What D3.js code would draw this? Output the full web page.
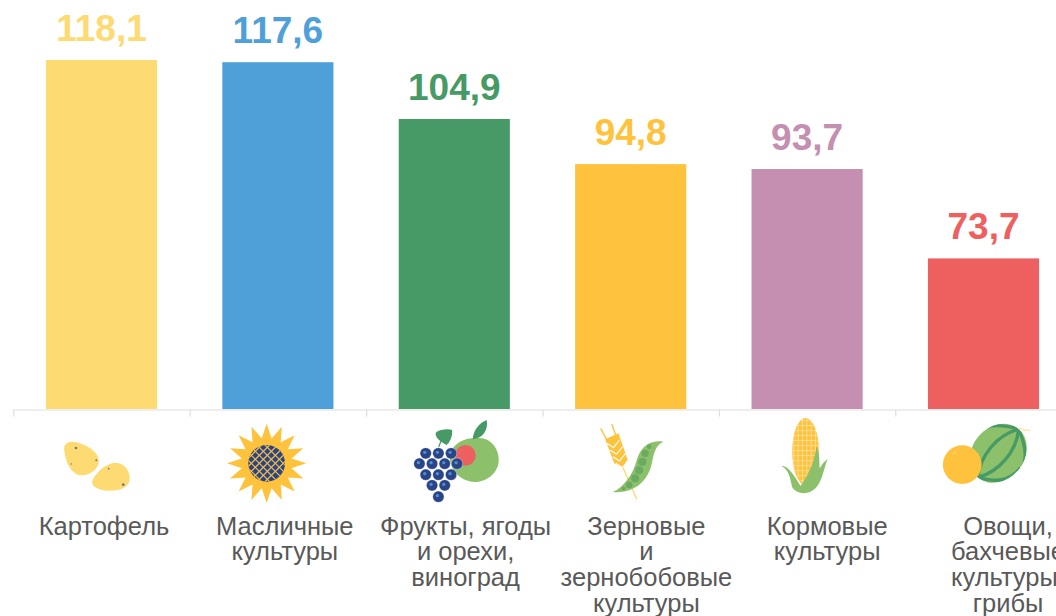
<!DOCTYPE html>
<html lang="ru">
<head>
<meta charset="utf-8">
<script src="https://cdnjs.cloudflare.com/ajax/libs/d3/7.9.0/d3.min.js"></script>
<style>
  html, body { margin: 0; padding: 0; background: #fff; overflow: hidden; }
  text { font-family: "Liberation Sans", Arial, sans-serif; }
</style>
</head>
<body>
<svg id="chart" width="1056" height="616"></svg>
<script>
// данные
const categories = ["Картофель", "Масличные культуры", "Фрукты, ягоды и орехи, виноград", "Зерновые и зернобобовые культуры", "Кормовые культуры", "Овощи, бахчевые культуры, грибы"];
const values = [118.1, 117.6, 104.9, 94.8, 93.7, 73.7];
const labelLines = [
  ["Картофель"],
  ["Масличные", "культуры"],
  ["Фрукты, ягоды", "и орехи,", "виноград"],
  ["Зерновые", "и", "зернобобовые", "культуры"],
  ["Кормовые", "культуры"],
  ["Овощи,", "бахчевые", "культуры,", "грибы"]
];
const barColors = ["#fdda72", "#4f9fd9", "#479a66", "#ffc23c", "#c48fb0", "#ee6060"];

const svg = d3.select("#chart");

// шкала начинается с 40, как на исходном графике
const y = d3.scaleLinear().domain([40, 118.1]).range([409, 60]);
const x = d3.scaleBand().domain(categories).range([13.3, 1071.7]).paddingInner(0.37).paddingOuter(0.185);
// подписи идут с чуть большим шагом, чем столбцы
const labelX = d3.scalePoint().domain(categories).range([104, 1008]);

svg.selectAll("rect.bar")
  .data(categories)
  .enter()
  .append("rect")
    .attr("class", "bar")
    .attr("x", d => x(d))
    .attr("y", (d, i) => y(values[i]))
    .attr("width", x.bandwidth())
    .attr("height", (d, i) => y.range()[0] - y(values[i]))
    .attr("fill", (d, i) => barColors[i]);

svg.selectAll("text.value")
  .data(categories)
  .enter()
  .append("text")
    .attr("class", "value")
    .attr("x", d => x(d) + x.bandwidth() / 2)
    .attr("y", (d, i) => y(values[i]) - 19)
    .attr("text-anchor", "middle")
    .attr("font-size", 37)
    .attr("font-weight", "bold")
    .attr("fill", (d, i) => barColors[i])
    .text((d, i) => String(values[i]).replace(".", ","));

// ось с засечками между категориями
const tickScale = d3.scaleLinear().domain([0, categories.length]).range(x.range());
const axis = svg.append("g")
  .attr("transform", "translate(0,409.5)")
  .call(d3.axisBottom(tickScale).tickValues(d3.range(categories.length + 1)).tickSize(7).tickSizeOuter(0).tickFormat(""));
axis.selectAll("path, line").attr("stroke", "#dedede").attr("stroke-width", 1.2);

// подписи категорий
const labels = svg.selectAll("text.cat")
  .data(categories)
  .enter()
  .append("text")
    .attr("class", "cat")
    .attr("text-anchor", "middle")
    .attr("font-size", 25.5)
    .attr("fill", "#595959");
labels.each(function (d, i) {
  d3.select(this).selectAll("tspan")
    .data(labelLines[i])
    .enter()
    .append("tspan")
      .attr("x", labelX(d))
      .attr("y", (l, j) => 534.5 + j * 25.7)
      .text(l => l);
});

// иконки: координаты внутри каждой иконки заданы в масштабе 3:1
const defs = svg.append("defs");
const GREEN = "#8cc06a", DARK = "#479a66", NAVY = "#2a4488", GOLD = "#ffc23c", POTATO = "#fdda72";

function icon(i, ox, oy) {
  return svg.append("g").attr("transform", `translate(${x(categories[i]) + ox},${oy}) scale(${1 / 3})`);
}

// картофель
const g0 = icon(0, -16, 400);
g0.append("path").attr("fill", POTATO)
  .attr("d", "M103,150 C100,128 120,122 140,127 C170,135 205,155 207,182 C208,205 180,226 155,226 C125,226 106,185 103,150 Z");
g0.append("path").attr("fill", POTATO)
  .attr("d", "M187,243 C195,222 225,190 255,188 C285,188 302,215 299,240 C296,265 265,273 235,272 C208,271 182,260 187,243 Z");
[[138, 144, 4], [199, 181, 3], [124, 192, 2], [236, 206, 2.5], [280, 254, 4]].forEach(p => {
  g0.append("circle").attr("cx", p[0]).attr("cy", p[1]).attr("r", p[2]).attr("fill", "#777");
});

// подсолнух
const g1 = icon(1, -192, 400).append("g").attr("transform", "translate(709,190)");
const rays = 16;
const star = d3.range(rays * 2).map(k => [k * Math.PI / rays, k % 2 ? 76 : 119]);
g1.append("path").attr("fill", GOLD).attr("d", d3.lineRadial().curve(d3.curveLinearClosed)(star));
defs.append("clipPath").attr("id", "disc").append("circle").attr("r", 55);
g1.append("circle").attr("r", 55).attr("fill", NAVY);
const lattice = g1.append("g").attr("clip-path", "url(#disc)");
d3.range(-70, 71, 24).forEach(k => {
  lattice.append("line").attr("x1", k - 70).attr("y1", -70).attr("x2", k + 70).attr("y2", 70).attr("stroke", GOLD).attr("stroke-width", 3.5);
  lattice.append("line").attr("x1", k + 70).attr("y1", -70).attr("x2", k - 70).attr("y2", 70).attr("stroke", GOLD).attr("stroke-width", 3.5);
});

// фрукты и виноград
const g2 = icon(2, -9, 400);
g2.append("path").attr("fill", GREEN)
  .attr("d", "M180,160 C195,125 230,112 265,114 C305,112 330,150 327,185 C322,225 285,246 255,246 C220,246 175,215 180,160 Z");
g2.append("path").attr("fill", DARK).attr("d", "M249,118 C250,90 270,68 291,60 C296,90 280,115 249,118 Z");
g2.append("circle").attr("cx", 227).attr("cy", 166).attr("r", 31).attr("fill", "#ee6060");
g2.append("path").attr("fill", DARK)
  .attr("d", "M138,98 C150,88 175,86 187,90 C190,105 180,130 170,135 C155,125 135,115 138,98 Z");
g2.append("line").attr("x1", 156).attr("y1", 118).attr("x2", 147).attr("y2", 140).attr("stroke", DARK).attr("stroke-width", 4);
[[108, 160], [146, 160], [184, 160], [89, 191], [127, 191], [165, 191], [202, 191], [108, 224], [146, 224], [184, 224], [127, 256], [165, 256], [146, 290]].forEach(p => {
  g2.append("circle").attr("cx", p[0]).attr("cy", p[1]).attr("r", 17).attr("fill", NAVY).attr("stroke", "#fff").attr("stroke-width", 1);
  g2.append("circle").attr("cx", p[0] - 3).attr("cy", p[1] - 3).attr("r", 5).attr("fill", "#4f8fd0");
});

// зерновые и горох
const g3 = icon(3, -185, 400);
g3.append("path").attr("fill", "none").attr("stroke", GOLD).attr("stroke-width", 4)
  .attr("d", "M632,85 L665,150 M665,72 L692,150");
g3.append("path").attr("fill", "none").attr("stroke", POTATO).attr("stroke-width", 4).attr("d", "M695,195 L740,298");
g3.append("path").attr("fill", GOLD)
  .attr("d", "M645,118 L685,100 L712,178 L700,205 L672,190 Z");
[0, 1, 2, 3].forEach(k => {
  g3.append("path").attr("fill", "none").attr("stroke", "#fff").attr("stroke-width", 3.5)
    .attr("d", `M${650 + k * 9},${130 + k * 20} L${670 + k * 9},${143 + k * 20} L${688 + k * 9},${120 + k * 20}`);
});
g3.append("path").attr("fill", GREEN)
  .attr("d", "M668,276 C700,262 728,225 740,180 C750,145 775,118 820,125 C795,135 790,165 785,190 C775,240 735,282 668,276 Z");
[[777, 140, 7], [765, 160, 11], [757, 186, 12], [747, 211, 12], [735, 235, 12], [717, 255, 10], [700, 266, 6]].forEach(p => {
  g3.append("circle").attr("cx", p[0]).attr("cy", p[1]).attr("r", p[2]).attr("fill", "#6aab5f");
});

// кукуруза
const g4 = icon(4, -1, 400);
g4.append("ellipse").attr("cx", 165).attr("cy", 155).attr("rx", 40).attr("ry", 101).attr("fill", GOLD);
defs.append("clipPath").attr("id", "cob").append("ellipse").attr("cx", 165).attr("cy", 155).attr("rx", 40).attr("ry", 101);
const grid = g4.append("g").attr("clip-path", "url(#cob)");
d3.range(130, 205, 13).forEach(k => {
  grid.append("line").attr("x1", k).attr("y1", 50).attr("x2", k).attr("y2", 260).attr("stroke", "#ffe9b0").attr("stroke-width", 2);
});
d3.range(62, 260, 15).forEach(k => {
  grid.append("line").attr("x1", 120).attr("y1", k).attr("x2", 210).attr("y2", k).attr("stroke", "#ffe9b0").attr("stroke-width", 2);
});
g4.append("path").attr("fill", GREEN)
  .attr("d", "M92,197 C115,198 130,225 150,258 C165,235 190,200 198,138 C210,165 205,195 208,205 C215,192 222,183 232,177 C220,200 218,240 195,265 C175,285 140,285 125,262 C118,230 115,210 92,197 Z");

// овощи и бахчевые
const g5 = icon(5, -178, 400);
const melon = g5.append("g").attr("transform", "translate(745,160) rotate(40)");
defs.append("clipPath").attr("id", "melon").append("ellipse").attr("rx", 78).attr("ry", 95);
melon.append("ellipse").attr("rx", 78).attr("ry", 95).attr("fill", GREEN);
const stripes = melon.append("g").attr("clip-path", "url(#melon)").attr("fill", "none").attr("stroke", DARK).attr("stroke-width", 10);
["M0,-95 C-120,-40 -120,40 0,95", "M0,-95 C-38,-40 -38,40 0,95", "M0,-95 C38,-40 38,40 0,95", "M0,-95 C112,-40 112,40 0,95"].forEach(d => {
  stripes.append("path").attr("d", d);
});
melon.append("path").attr("fill", "none").attr("stroke", DARK).attr("stroke-width", 4)
  .attr("d", "M-20,93 C40,90 78,40 76,-10");
g5.append("path").attr("fill", "none").attr("stroke", POTATO).attr("stroke-width", 3).attr("d", "M806,88 C815,80 820,95 828,90 C832,88 836,94 840,90");
g5.append("circle").attr("cx", 637).attr("cy", 194).attr("r", 58).attr("fill", GOLD);
g5.append("path").attr("fill", "none").attr("stroke", "#ffe08a").attr("stroke-width", 3).attr("d", "M608,162 L620,155");
</script>
</body>
</html>
